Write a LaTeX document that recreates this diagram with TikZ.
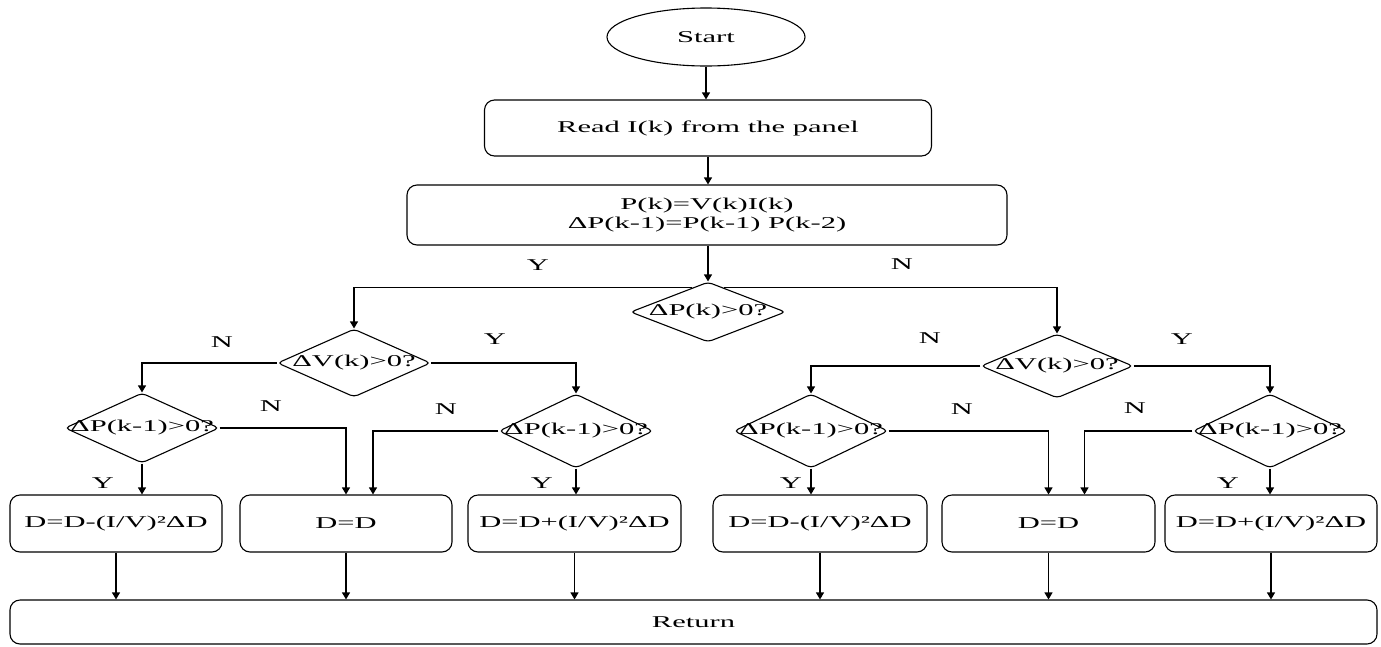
\documentclass[tikz,border=0pt]{standalone}
\usepackage{fontspec}
\setmainfont{Liberation Serif}[FakeStretch=1.85]
\usetikzlibrary{shapes.geometric,arrows.meta,calc}
\begin{document}
\begin{tikzpicture}[x=1pt,y=-1pt,
  every node/.style={font=\fontsize{16.5pt}{19pt}\selectfont, inner sep=0pt, text=black},
  line/.style={line width=1.1pt, draw=black},
  arr/.style={line, -{Triangle[length=7pt,width=8pt]}},
  box/.style={draw, line width=1.1pt, rounded corners=10pt, align=center},
  dec/.style={draw, line width=1.1pt, diamond, rounded corners=4pt},
  term/.style={draw, line width=1.1pt, ellipse},
  lbl/.style={}
]
\useasboundingbox (0,0) rectangle (1381,646);
\fill[white] (0,0) rectangle (1381,646);

% main column
\node[term, minimum width=198pt, minimum height=58pt] (start) at (706,37) {Start};
\node[box, minimum width=447pt, minimum height=56pt] (read) at (708,128) {Read I(k) from the panel};
\node[box, minimum width=600pt, minimum height=60pt] (pcalc) at (707,215) {P(k)=V(k)I(k)\\ΔP(k-1)=P(k-1) P(k-2)};
\node[dec, minimum width=155pt, minimum height=60pt] (c) at (708,312) {\makebox[0pt]{ΔP(k)>0?}};

% second level
\node[dec, minimum width=153pt, minimum height=68pt] (lV) at (354,363) {\makebox[0pt]{ΔV(k)>0?}};
\node[dec, minimum width=152pt, minimum height=64pt] (rV) at (1057,366) {\makebox[0pt]{ΔV(k)>0?}};

% third level
\node[dec, minimum width=154pt, minimum height=70pt] (lP1) at (142,428) {\makebox[0pt]{ΔP(k-1)>0?}};
\node[dec, minimum width=154pt, minimum height=74pt] (lP2) at (576,431) {\makebox[0pt]{ΔP(k-1)>0?}};
\node[dec, minimum width=154pt, minimum height=74pt] (rP1) at (811,431) {\makebox[0pt]{ΔP(k-1)>0?}};
\node[dec, minimum width=154pt, minimum height=74pt] (rP2) at (1270,431) {\makebox[0pt]{ΔP(k-1)>0?}};

% action boxes
\node[box, minimum width=212pt, minimum height=57pt] (lD1) at (116,523.5) {D=D-(I/V)²ΔD};
\node[box, minimum width=212pt, minimum height=57pt] (lD2) at (346,523.5) {D=D};
\node[box, minimum width=213pt, minimum height=57pt] (lD3) at (574.5,523.5) {D=D+(I/V)²ΔD};
\node[box, minimum width=214pt, minimum height=57pt] (rD1) at (820,523.5) {D=D-(I/V)²ΔD};
\node[box, minimum width=213pt, minimum height=57pt] (rD2) at (1048.5,523.5) {D=D};
\node[box, minimum width=212pt, minimum height=57pt] (rD3) at (1271,523.5) {D=D+(I/V)²ΔD};

\node[box, minimum width=1367pt, minimum height=44pt] (ret) at (693.5,622) {Return};

% connectors
\draw[arr] (start.south) -- (start.south |- read.north);
\draw[arr] (read.south) -- (read.south |- pcalc.north);
\draw[arr] (c.north |- pcalc.south) -- (c.north);
\draw[arr] ($(c.north)!0.2!(c.west)$) -| (lV.north);
\draw[arr] ($(c.north)!0.2!(c.east)$) -| (rV.north);

\draw[arr] (lV.west) -| (lP1.north);
\draw[arr] (lV.east) -| (lP2.north);
\draw[arr] (rV.west) -| (rP1.north);
\draw[arr] (rV.east) -| (rP2.north);

\draw[arr] (lP1.east) -| (lD2.north);
\draw[arr] (lP2.west) -| ([xshift=27pt]lD2.north);
\draw[arr] (rP1.east) -| (rD2.north);
\draw[arr] (rP2.west) -| ([xshift=36pt]rD2.north);

\draw[arr] (lP1.south) -- (lP1.south |- lD1.north);
\draw[arr] (lP2.south) -- (lP2.south |- lD3.north);
\draw[arr] (rP1.south) -- (rP1.south |- rD1.north);
\draw[arr] (rP2.south) -- (rP2.south |- rD3.north);

\foreach \b in {lD1,lD2,lD3,rD1,rD2,rD3}
  \draw[arr] (\b.south) -- (\b.south |- ret.north);

% labels
\node[lbl] (y0) at (538,265) {Y};
\node[lbl] (n0) at (902,264) {N};
\node[lbl] (n1) at (222,342) {N};
\node[lbl] (y1) at (495,339) {Y};
\node[lbl] (n2) at (271,406) {N};
\node[lbl] (n3) at (446,409) {N};
\node[lbl] (y2) at (103,483) {Y};
\node[lbl] (y3) at (542,483) {Y};
\node[lbl] (n4) at (930,338) {N};
\node[lbl] (y4) at (1182,339) {Y};
\node[lbl] (n5) at (962,409) {N};
\node[lbl] (n6) at (1135,408) {N};
\node[lbl] (y5) at (791,483) {Y};
\node[lbl] (y6) at (1228,483) {Y};
\end{tikzpicture}
\end{document}
